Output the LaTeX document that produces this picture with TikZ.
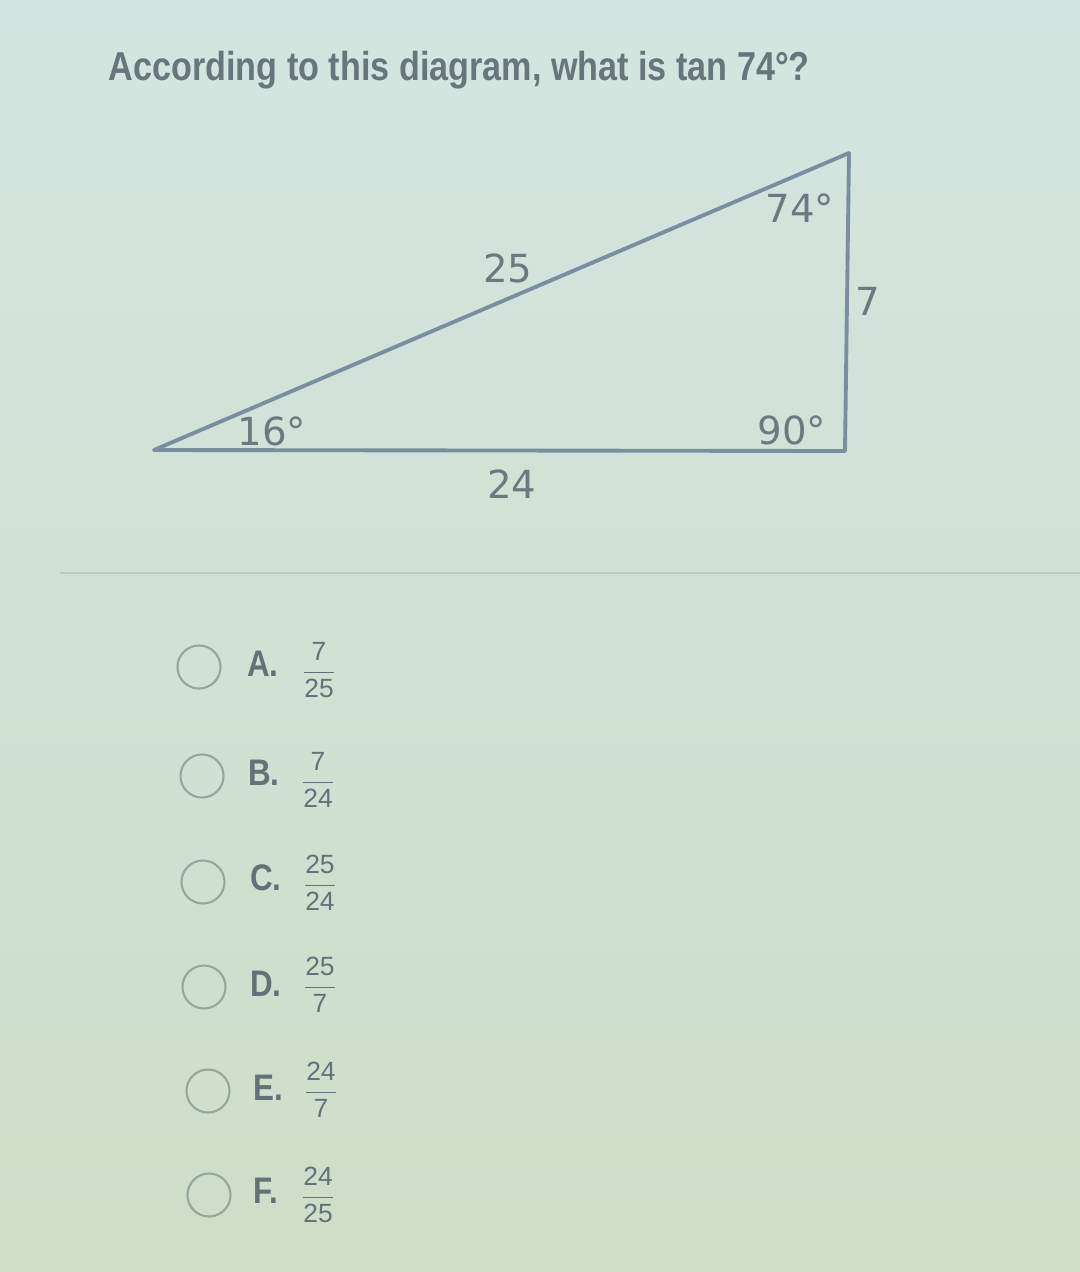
\documentclass[tikz,border=0pt]{standalone}
\usepackage{amsmath}
\usepackage{fontspec}
\setmainfont{Liberation Sans}
\newfontfamily\trifont{DejaVu Sans}
\definecolor{bgtop}{RGB}{212,228,224}
\definecolor{bgbot}{RGB}{206,222,200}
\definecolor{qtext}{RGB}{104,118,124}
\definecolor{triline}{RGB}{122,142,160}
\definecolor{trilabel}{RGB}{108,122,128}
\definecolor{optcircle}{RGB}{150,166,156}
\definecolor{optletter}{RGB}{100,114,120}
\definecolor{rulecol}{RGB}{188,204,192}

\begin{document}
\begin{tikzpicture}[x=0.01cm, y=-0.01cm,
    trilab/.style={text=trilabel, font=\trifont\fontsize{11}{13}\selectfont, inner sep=0pt},
    radio/.style={circle, draw=optcircle, line width=0.6pt, minimum size=0.43cm, inner sep=0pt},
    optlab/.style={text=optletter, font=\bfseries\fontsize{10.5}{12}\selectfont, inner sep=0pt},
    optfrac/.style={text=optletter, font=\fontsize{7.5}{9}\selectfont, inner sep=0pt}]
      \shade[top color=bgtop, bottom color=bgbot] (0, 0) rectangle (1080, 1272);
      \useasboundingbox (0, 0) rectangle (1080, 1272);

      \node[anchor=base west, text=qtext, inner sep=0pt, font=\bfseries\fontsize{11.5}{13}\selectfont] (question) at (108, 80)
        {\scalebox{0.845}[1]{According to this diagram, what is tan 74°?}};

      \coordinate (left) at (154, 450);
      \coordinate (right) at (845, 451);
      \coordinate (top) at (849, 153);
      \draw [triline, line width=1.1pt, line join=round] (left) -- (right) -- (top) -- cycle;

      \node[trilab] (hyp) at (508, 268) {25};
      \node[trilab] (angtop) at (800, 208) {74°};
      \node[trilab] (opp) at (868, 301) {7};
      \node[trilab] (angleft) at (272, 431) {16°};
      \node[trilab] (angright) at (792, 430) {90°};
      \node[trilab] (adj) at (512, 484) {24};

      \draw [rulecol, line width=0.5pt] (60, 573) -- (1080, 573);

      \node[radio] (radioA) at (199, 667) {};
      \node[optlab] (optA) at (263, 664) {\scalebox{0.85}[1]{A.}};
      \node[optfrac] (fracA) at (319, 670) {$\dfrac{\text{7}}{\text{25}}$};

      \node[radio] (radioB) at (202, 776) {};
      \node[optlab] (optB) at (264, 773) {\scalebox{0.85}[1]{B.}};
      \node[optfrac] (fracB) at (318, 780) {$\dfrac{\text{7}}{\text{24}}$};

      \node[radio] (radioC) at (203, 882) {};
      \node[optlab] (optC) at (266, 878) {\scalebox{0.85}[1]{C.}};
      \node[optfrac] (fracC) at (320, 883) {$\dfrac{\text{25}}{\text{24}}$};

      \node[radio] (radioD) at (204, 987) {};
      \node[optlab] (optD) at (266, 984) {\scalebox{0.85}[1]{D.}};
      \node[optfrac] (fracD) at (320, 985) {$\dfrac{\text{25}}{\text{7}}$};

      \node[radio] (radioE) at (208, 1091) {};
      \node[optlab] (optE) at (268, 1088) {\scalebox{0.85}[1]{E.}};
      \node[optfrac] (fracE) at (321, 1090) {$\dfrac{\text{24}}{\text{7}}$};

      \node[radio] (radioF) at (209, 1195) {};
      \node[optlab] (optF) at (266, 1191) {\scalebox{0.85}[1]{F.}};
      \node[optfrac] (fracF) at (318, 1195) {$\dfrac{\text{24}}{\text{25}}$};

    \end{tikzpicture}
\end{document}
